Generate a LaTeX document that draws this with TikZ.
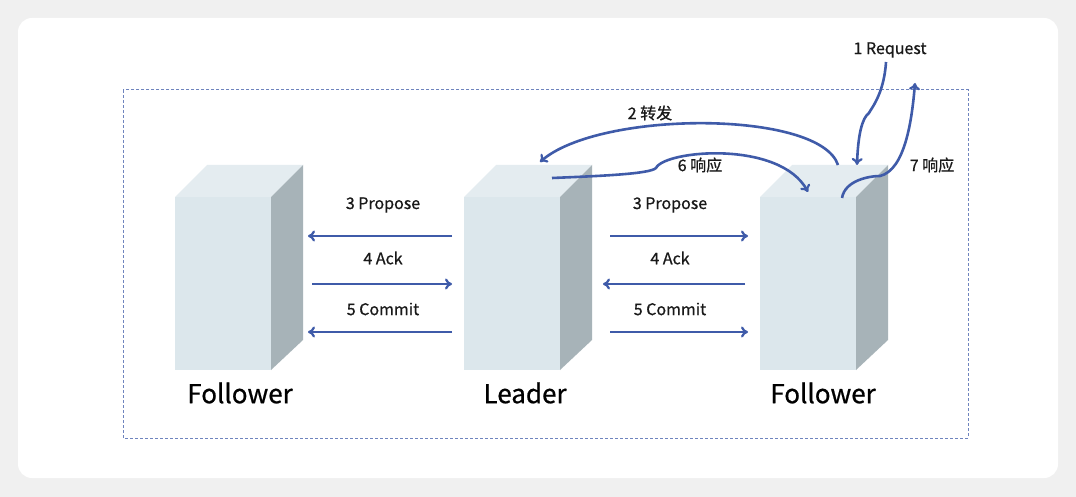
\documentclass[tikz,border=0pt]{standalone}
\usepackage{fontspec}
\setmainfont{Noto Sans CJK SC}[BoldFont={Noto Sans CJK SC},BoldFeatures={FakeBold=0.7}]
\usetikzlibrary{arrows.meta}
\definecolor{ar}{HTML}{3F5BA9}
\definecolor{frontc}{HTML}{DCE7EC}
\definecolor{topc}{HTML}{E4ECF0}
\definecolor{sidec}{HTML}{A7B3B8}
\tikzset{
 flow/.style={draw=ar,line width=2.6pt,-{To[length=7pt,width=11pt,line width=2.2pt]}},
 lbl/.style={font=\fontsize{16}{18}\selectfont\bfseries,text=black!90},
 big/.style={font=\fontsize{26}{30}\selectfont\bfseries,text=black},
}
\newcommand{\srvbox}[2]{%
 \fill[topc] (#1,197)--(#1+96,197)--(#1+128,165)--(#1+32,165)--cycle;
 \fill[sidec] (#1+96,197)--(#1+128,165)--(#1+128,340)--(#1+96,370)--cycle;
 \fill[frontc] (#1,197) rectangle (#1+96,370);
 \coordinate (#2) at (#1+48,280);}
\begin{document}
\begin{tikzpicture}[x=1pt,y=-1pt]
\fill[black!6] (0,0) rectangle (1076,497);
\useasboundingbox (0,0) rectangle (1076,497);
\fill[white,rounded corners=14pt] (18,18) rectangle (1058,478);
\draw[ar!75,dash pattern=on 3pt off 2pt,line width=1pt] (123,90) rectangle (968,438);
\srvbox{175}{fl}
\srvbox{464}{ld}
\srvbox{760}{fr}
\node[big] (tfl) at (240,393) {Follower};
\node[big] (tld) at (525,393) {Leader};
\node[big] (tfr) at (823,393) {Follower};
% left arrows
\coordinate (a1) at (452,236); \coordinate (b1) at (308,236);
\coordinate (a2) at (312,284); \coordinate (b2) at (452,284);
\coordinate (a3) at (452,332); \coordinate (b3) at (308,332);
\draw[flow] (a1)--(b1); \draw[flow] (a2)--(b2); \draw[flow] (a3)--(b3);
\node[lbl] (l1) at (383,205) {3 Propose};
\node[lbl] (l2) at (383,258) {4 Ack};
\node[lbl] (l3) at (383,309) {5 Commit};
% right arrows
\coordinate (c1) at (610,236); \coordinate (d1) at (748,236);
\coordinate (c2) at (745,284); \coordinate (d2) at (603,284);
\coordinate (c3) at (610,332); \coordinate (d3) at (748,332);
\draw[flow] (c1)--(d1); \draw[flow] (c2)--(d2); \draw[flow] (c3)--(d3);
\node[lbl] (r1) at (670,205) {3 Propose};
\node[lbl] (r2) at (670,258) {4 Ack};
\node[lbl] (r3) at (670,309) {5 Commit};
% curves
\node[lbl] (req) at (890,50) {1 Request};
\coordinate (q0) at (886,62); \coordinate (q1) at (857,165);
\draw[flow] (q0) .. controls (884,95) and (870,110) .. (869,113) .. controls (862,118) and (858,135) .. (q1);
\coordinate (f0) at (838,165); \coordinate (f1) at (540,162);
\draw[flow] (f0) .. controls (820,110) and (600,110) .. (f1);
\node[lbl] (t2) at (650,113) {2 转发};
\coordinate (s0) at (552,178); \coordinate (s1) at (808,192);
\draw[flow] (s0) .. controls (600,176) and (650,174) .. (656,168) .. controls (665,150) and (780,140) .. (s1);
\node[lbl] (t6) at (700,165) {6 响应};
\coordinate (r0) at (842,198); \coordinate (rr) at (915,83);
\draw[flow] (r0) .. controls (845,180) and (870,176) .. (880,176) .. controls (905,170) and (912,120) .. (rr);
\node[lbl] (t7) at (932,165) {7 响应};
\end{tikzpicture}
\end{document}
